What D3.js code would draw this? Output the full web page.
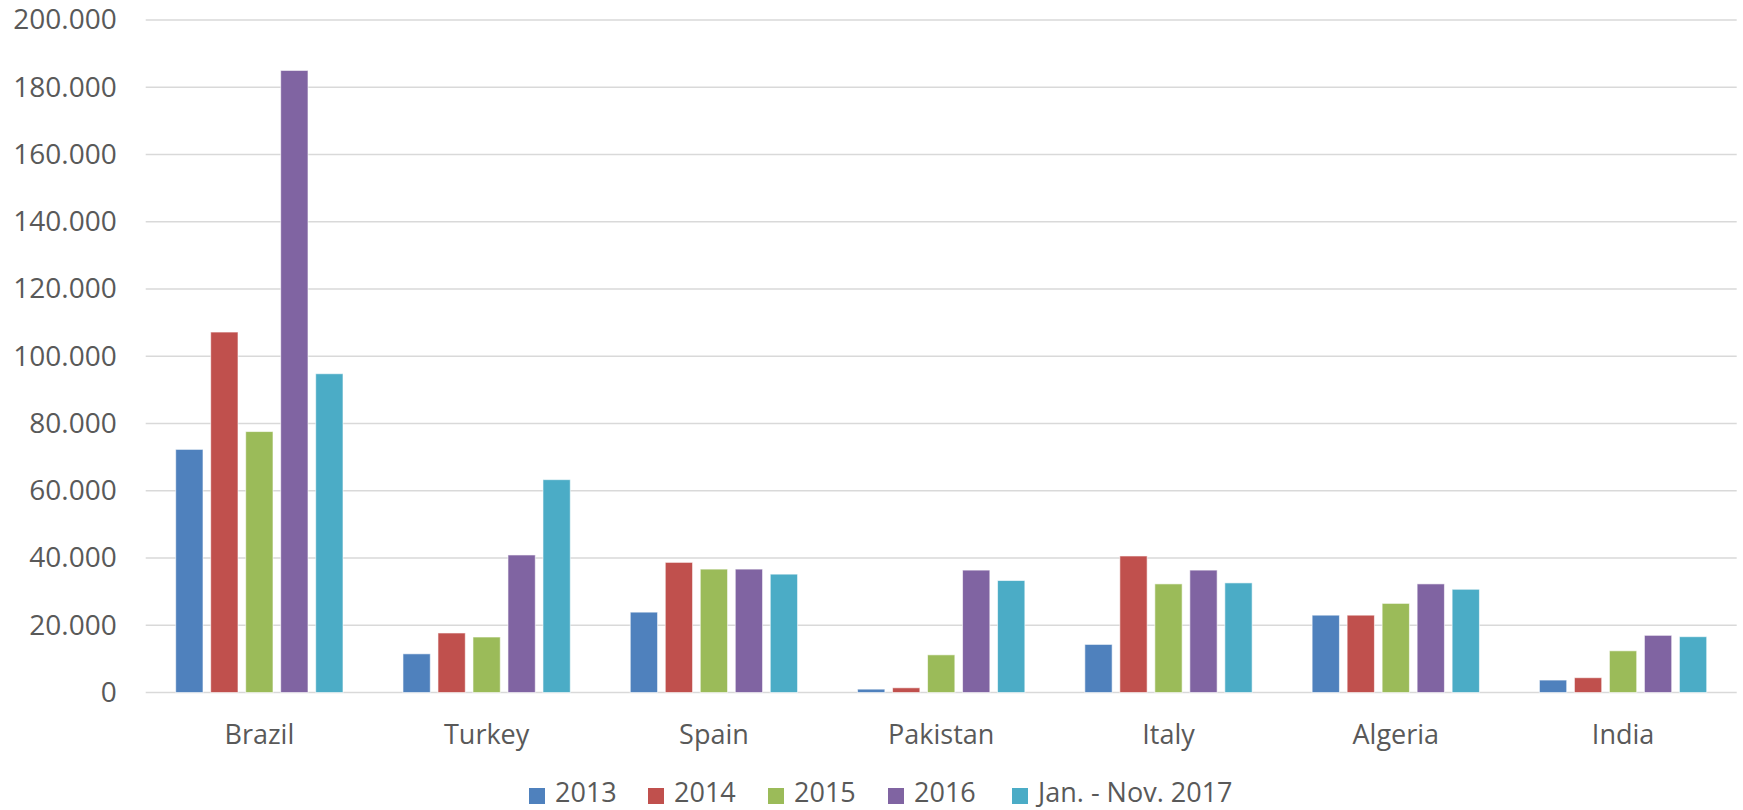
<!DOCTYPE html>
<html>
<head>
<meta charset="utf-8">
<script src="https://cdn.jsdelivr.net/npm/d3@7"></script>
<style>
  body { margin: 0; background: #fff; }
  svg text { font-family: "Open Sans", "Noto Sans", sans-serif; fill: #595959; }
</style>
</head>
<body>
<div id="chart"></div>
<script>
// categories and series
var countries = ["Brazil", "Turkey", "Spain", "Pakistan", "Italy", "Algeria", "India"];
var seriesNames = ["2013", "2014", "2015", "2016", "Jan. - Nov. 2017"];
var seriesColors = ["#4F81BD", "#C0504D", "#9BBB59", "#8064A2", "#4BACC6"];

var v2013 = [72300, 11500, 23900, 1000, 14300, 23000, 3700];
var v2014 = [107200, 17700, 38700, 1400, 40600, 23000, 4400];
var v2015 = [77600, 16500, 36700, 11200, 32300, 26500, 12400];
var v2016 = [185000, 40900, 36700, 36400, 36400, 32300, 17000];
var v2017 = [94800, 63300, 35200, 33300, 32600, 30700, 16600];
var seriesValues = [v2013, v2014, v2015, v2016, v2017];

var yTicks = [0, 20000, 40000, 60000, 80000, 100000, 120000, 140000, 160000, 180000, 200000];

var width = 1743, height = 810;
var margin = { top: 20, right: 6.3, bottom: 117.5, left: 145.7 };

var svg = d3.select("#chart").append("svg")
  .attr("width", width)
  .attr("height", height);

var locale = d3.formatLocale({ decimal: ",", thousands: ".", grouping: [3], currency: ["", ""] });
var fmt = locale.format(",");

var x0 = d3.scaleBand()
  .domain(countries)
  .range([margin.left, width - margin.right])
  .padding(0);

var x1 = d3.scaleBand()
  .domain(seriesNames)
  .range([0, x0.bandwidth()])
  .paddingInner(0.22)
  .paddingOuter(0.857);

var y = d3.scaleLinear()
  .domain([0, 200000])
  .range([height - margin.bottom, margin.top]);

// gridlines
svg.append("g")
  .selectAll("line")
  .data(yTicks)
  .join("line")
  .attr("x1", margin.left)
  .attr("x2", width - margin.right)
  .attr("y1", function (d) { return y(d); })
  .attr("y2", function (d) { return y(d); })
  .attr("stroke", "#d9d9d9")
  .attr("stroke-width", 1.5);

// y axis labels
var yAxis = d3.axisLeft(y).tickValues(yTicks).tickFormat(fmt).tickSize(0).tickPadding(29);
var gy = svg.append("g")
  .attr("transform", "translate(" + margin.left + ",0)")
  .call(yAxis);
gy.select(".domain").remove();
gy.selectAll("text").style("font-size", "28px").attr("fill", "#595959");

// bars
var groups = svg.append("g")
  .selectAll("g")
  .data(countries)
  .join("g")
  .attr("transform", function (d) { return "translate(" + x0(d) + ",0)"; });

groups.selectAll("rect")
  .data(function (d, i) {
    return seriesNames.map(function (s, j) {
      return { series: s, value: seriesValues[j][i], color: seriesColors[j] };
    });
  })
  .join("rect")
  .attr("x", function (d) { return x1(d.series); })
  .attr("y", function (d) { return y(d.value); })
  .attr("width", x1.bandwidth())
  .attr("height", function (d) { return y(0) - y(d.value); })
  .attr("fill", function (d) { return d.color; })
  .attr("stroke", "#ffffff")
  .attr("stroke-opacity", 0.6)
  .attr("stroke-width", 1);

// x axis labels
var xAxis = d3.axisBottom(x0).tickSize(0).tickPadding(32);
var gx = svg.append("g")
  .attr("transform", "translate(0," + y(0) + ")")
  .call(xAxis);
gx.select(".domain").remove();
gx.selectAll("text").style("font-size", "27px").attr("fill", "#595959");

// legend
var legendX = [529, 648, 768, 888, 1012];
var legend = svg.append("g")
  .selectAll("g")
  .data(seriesNames)
  .join("g")
  .attr("transform", function (d, i) { return "translate(" + legendX[i] + ",802)"; });

legend.append("rect")
  .attr("x", 0)
  .attr("y", -14)
  .attr("width", 16)
  .attr("height", 16)
  .attr("fill", function (d, i) { return seriesColors[i]; });

legend.append("text")
  .attr("x", 26)
  .attr("y", 0)
  .style("font-size", "27px")
  .text(function (d) { return d; });
</script>
</body>
</html>
